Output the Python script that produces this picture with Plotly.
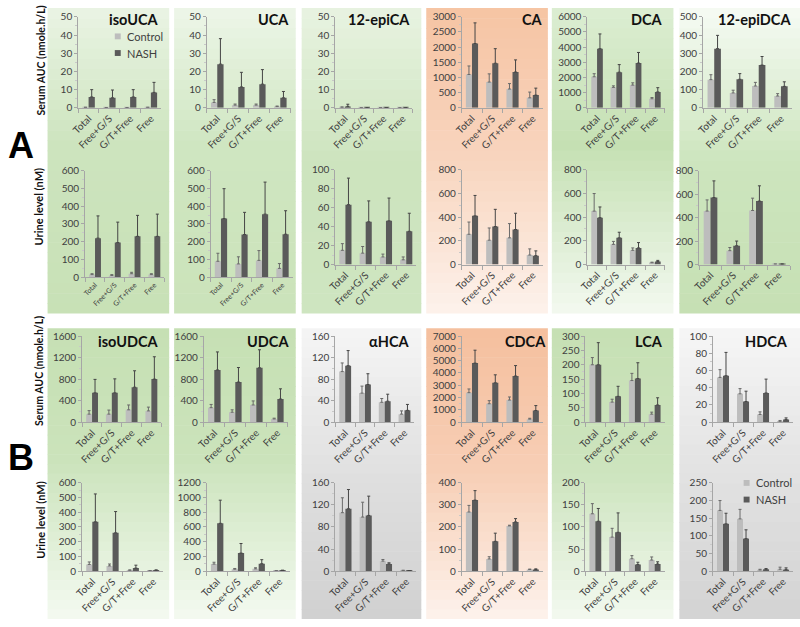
import plotly.graph_objects as go

W, H = 800, 627
categories = ["Total", "Free+G/S", "G/T+Free", "Free"]

names_a = ["isoUCA", "UCA", "12-epiCA", "CA", "DCA", "12-epiDCA"]
names_b = ["isoUDCA", "UDCA", "αHCA", "CDCA", "LCA", "HDCA"]

# --- A: serum AUC (nmole.h/L) ---
serum_a_control = [[0.3, 0.2, 0.2, 0.3], [3, 1.5, 1.5, 0.7], [0.3, 0.1, 0.1, 0.1],
                   [1100, 850, 620, 330], [2050, 1350, 1500, 600], [155, 82, 120, 65]]
serum_a_control_err = [[0, 0, 0, 0], [1.5, 0.6, 0.6, 0.3], [0.2, 0, 0, 0],
                       [280, 270, 180, 190], [200, 100, 150, 80], [27, 15, 20, 13]]
serum_a_nash = [[6, 5.5, 6, 8.5], [24, 11.5, 13, 5.5], [0.8, 0.1, 0.1, 0.1],
                [2120, 1470, 1180, 420], [3900, 2350, 2950, 1050], [325, 157, 235, 118]]
serum_a_nash_err = [[4, 4.3, 4, 5.5], [14, 8, 8, 3.5], [1.2, 0, 0, 0],
                    [680, 480, 400, 230], [970, 500, 700, 280], [73, 31, 47, 25]]
serum_a_ymax = [50, 50, 50, 3000, 6000, 500]
serum_a_dtick = [10, 10, 10, 500, 1000, 100]

# --- A: urine level (nM) ---
urine_a_control = [[15, 10, 20, 15], [90, 75, 95, 50], [15, 12, 8, 5],
                   [255, 205, 225, 80], [450, 170, 120, 15], [455, 118, 460, 3]]
urine_a_control_err = [[5, 5, 8, 5], [45, 40, 55, 27], [7, 7, 3, 3],
                       [103, 103, 120, 52], [148, 25, 20, 5], [95, 27, 105, 2]]
urine_a_nash = [[220, 195, 230, 230], [330, 240, 355, 242], [63, 45, 46, 35],
                [410, 320, 295, 75], [395, 225, 140, 25], [570, 160, 540, 3]]
urine_a_nash_err = [[125, 115, 118, 125], [168, 125, 180, 132], [28, 22, 24, 19],
                    [172, 145, 137, 40], [90, 47, 45, 10], [142, 40, 130, 2]]
urine_a_ymax = [600, 600, 100, 800, 800, 800]
urine_a_dtick = [100, 100, 20, 200, 200, 200]

# --- B: serum AUC (nmole.h/L) ---
serum_b_control = [[150, 150, 230, 210], [270, 185, 320, 60], [94, 54, 37, 15],
                   [2400, 1500, 1800, 250], [200, 70, 145, 28], [52, 33, 9, 1]]
serum_b_control_err = [[65, 75, 90, 70], [60, 45, 75, 15], [16, 13, 7, 6],
                       [300, 250, 250, 70], [25, 10, 25, 7], [9, 6, 3, 1]]
serum_b_nash = [[545, 545, 650, 800], [970, 745, 1010, 430], [105, 70, 39, 22],
                [4800, 3200, 3750, 950], [200, 90, 152, 60], [54, 24, 34, 3]]
serum_b_nash_err = [[250, 260, 305, 415], [335, 270, 335, 190], [28, 20, 13, 11],
                    [1050, 650, 850, 400], [77, 35, 55, 25], [27, 12, 16, 2]]
serum_b_ymax = [1600, 1600, 160, 7000, 300, 100]
serum_b_dtick = [400, 400, 40, 1000, 50, 20]

# --- B: urine level (nM) ---
urine_b_control = [[45, 35, 5, 2], [95, 25, 30, 3], [106, 98, 18, 1],
                   [268, 55, 205, 7], [130, 77, 28, 25], [172, 148, 3, 5]]
urine_b_control_err = [[17, 13, 3, 1], [25, 10, 15, 2], [27, 27, 3, 0.5],
                       [30, 10, 3, 2], [23, 20, 7, 7], [28, 27, 2, 6]]
urine_b_nash = [[335, 260, 20, 5], [650, 245, 100, 8], [113, 101, 13, 0.5],
                [322, 135, 223, 7], [113, 88, 15, 16], [134, 92, 5, 4]]
urine_b_nash_err = [[190, 145, 20, 3], [315, 130, 55, 4], [35, 35, 2, 0.5],
                    [43, 37, 15, 3], [29, 44, 5, 5], [30, 25, 2, 5]]
urine_b_ymax = [600, 1200, 160, 400, 200, 250]
urine_b_dtick = [100, 200, 40, 100, 50, 50]

rows = [
    (serum_a_control, serum_a_control_err, serum_a_nash, serum_a_nash_err, serum_a_ymax, serum_a_dtick),
    (urine_a_control, urine_a_control_err, urine_a_nash, urine_a_nash_err, urine_a_ymax, urine_a_dtick),
    (serum_b_control, serum_b_control_err, serum_b_nash, serum_b_nash_err, serum_b_ymax, serum_b_dtick),
    (urine_b_control, urine_b_control_err, urine_b_nash, urine_b_nash_err, urine_b_ymax, urine_b_dtick),
]

# pixel layout of each plotting area
x_pix = [
    [(70, 154), (200, 285), (330, 408), (458, 540), (585, 663), (702, 792)],
    [(77, 157), (204, 287), (330, 412), (458, 540), (585, 663), (698, 790)],
    [(74, 154), (197, 282), (330, 410), (458, 540), (583, 663), (712, 793)],
    [(74, 156), (200, 284), (330, 412), (458, 540), (583, 663), (712, 793)],
]
y_pix = [
    [(10, 103)] * 6,
    [(167, 276), (167, 276), (166, 263), (166, 263), (166, 263), (167, 263)],
    [(336, 424)] * 6,
    [(486, 576)] * 6,
]

CTRL = "#bdbdbd"
NASH = "#5a5a5a"
TXT = "#404040"
AXC = "#a6a6a6"
FONT = "Lato, Open Sans, sans-serif"


def px(x):
    return x / W


def py(y):
    return 1 - y / H


fig = go.Figure()
layout = {}
n = 0
for r, (ctrl, ctrl_err, nash, nash_err, ymax, dtick) in enumerate(rows):
    for c in range(6):
        n += 1
        xa = f"x{n}" if n > 1 else "x"
        ya = f"y{n}" if n > 1 else "y"
        fig.add_trace(go.Bar(
            x=categories, y=ctrl[c], marker_color=CTRL, marker_line_width=0,
            error_y=dict(type="data", symmetric=False, array=ctrl_err[c],
                         arrayminus=[0] * 4, color="#6a6a6a", thickness=1, width=1.5),
            xaxis=xa, yaxis=ya, showlegend=False, name="Control"))
        fig.add_trace(go.Bar(
            x=categories, y=nash[c], marker_color=NASH, marker_line_width=0,
            error_y=dict(type="data", symmetric=False, array=nash_err[c],
                         arrayminus=[0] * 4, color="#454545", thickness=1, width=1.5),
            xaxis=xa, yaxis=ya, showlegend=False, name="NASH"))
        x0, x1 = x_pix[r][c]
        y0, y1 = y_pix[r][c]
        small = (r == 1 and c < 2)
        layout["xaxis" + (str(n) if n > 1 else "")] = dict(
            domain=[px(x0), px(x1)], anchor=ya, type="category",
            tickangle=-45, tickson="boundaries", ticks="outside", ticklen=4,
            tickcolor=AXC, showline=True, linecolor=AXC, linewidth=1,
            showgrid=False, tickfont=dict(size=7 if small else 10, color=TXT, family=FONT),
        )
        layout["yaxis" + (str(n) if n > 1 else "")] = dict(
            domain=[py(y1), py(y0)], anchor=xa, range=[0, ymax[c]], dtick=dtick[c],
            ticks="outside", ticklen=3, tickcolor=AXC, showline=True, linecolor=AXC,
            linewidth=1, showgrid=False, zeroline=False,
            minor=dict(dtick=dtick[c] / 2, ticks="outside", ticklen=2, tickcolor="#c8c8c8"),
            tickfont=dict(size=10, color=TXT, family=FONT),
        )

# gradient panel backgrounds
box_x = [(39, 162), (167, 290), (296, 417), (422, 545), (549, 672), (678, 800)]
sections = [(1, 313), (328, 625)]
grad_a = [
    [(0, "#eaf4e4"), (0.45, "#cde4be"), (1, "#c8e1b6")],
    [(0, "#edf6e8"), (0.45, "#cfe6c1"), (1, "#cbe3ba")],
    [(0, "#e8f3e1"), (0.5, "#cde4be"), (1, "#cee5c0")],
    [(0, "#f6c4a3"), (0.5, "#f8d5bf"), (1, "#fdf2eb")],
    [(0, "#dcedd2"), (0.45, "#c5e0b3"), (1, "#f3f9f0")],
    [(0, "#f6fbf4"), (0.5, "#cde5be"), (1, "#c6e0b4")],
]
grad_b = [
    [(0, "#c6e0b4"), (0.45, "#cbe3bb"), (1, "#f4faf1")],
    [(0, "#c6e0b4"), (0.45, "#cbe3bb"), (1, "#f4faf1")],
    [(0, "#f5f5f5"), (0.5, "#e0e0e0"), (1, "#d0d0d0")],
    [(0, "#f5bf9e"), (0.5, "#f7cfb6"), (1, "#fdf2ec")],
    [(0, "#c6e0b4"), (0.5, "#cde4be"), (1, "#f3f9f0")],
    [(0, "#f6f6f6"), (0.5, "#e2e2e2"), (1, "#d3d3d3")],
]


def hex2rgb(h):
    h = h.lstrip("#")
    return [int(h[i:i + 2], 16) for i in (0, 2, 4)]


def interp(stops, t):
    for (t0, c0), (t1, c1) in zip(stops[:-1], stops[1:]):
        if t0 <= t <= t1:
            f = (t - t0) / (t1 - t0) if t1 > t0 else 0
            a, b = hex2rgb(c0), hex2rgb(c1)
            return "rgb(%d,%d,%d)" % tuple(round(a[i] + (b[i] - a[i]) * f) for i in range(3))
    return stops[-1][1]


shapes = []
N = 30
for (sy0, sy1), grads in zip(sections, [grad_a, grad_b]):
    for (bx0, bx1), stops in zip(box_x, grads):
        for k in range(N):
            ya0 = sy0 + (sy1 - sy0) * k / N
            ya1 = sy0 + (sy1 - sy0) * (k + 1) / N + 0.6
            shapes.append(dict(type="rect", xref="paper", yref="paper", layer="below",
                               x0=px(bx0), x1=px(bx1), y0=py(min(ya1, sy1)), y1=py(ya0),
                               line=dict(width=0), fillcolor=interp(stops, (k + 0.5) / N)))

# legend squares
for (lx, ly) in [(107, 27), (743, 483)]:
    shapes.append(dict(type="rect", xref="paper", yref="paper", x0=px(lx), x1=px(lx + 6),
                       y0=py(ly + 6), y1=py(ly), fillcolor=CTRL, line=dict(width=0)))
    shapes.append(dict(type="rect", xref="paper", yref="paper", x0=px(lx), x1=px(lx + 6),
                       y0=py(ly + 23), y1=py(ly + 17), fillcolor=NASH, line=dict(width=0)))

annotations = []


def note(text, x, y, size, xanchor="center", angle=0, color="#111111", family=FONT):
    annotations.append(dict(text=text, x=px(x), y=py(y), xref="paper", yref="paper",
                            showarrow=False, xanchor=xanchor, yanchor="middle",
                            textangle=angle, font=dict(size=size, color=color, family=family)))


title_right_a = [153, 285, 408, 542, 663, 793]
title_right_b = [154, 285, 408, 545, 663, 790]
for name, xr in zip(names_a, title_right_a):
    note(f"<b>{name}</b>", xr, 13, 14.5, xanchor="right")
for name, xr in zip(names_b, title_right_b):
    note(f"<b>{name}</b>", xr, 342, 14.5, xanchor="right")

note("<b>Serum AUC (nmole.h/L)</b>", 32, 55, 10.5, angle=-90)
note("<b>Urine level (nM)</b>", 30, 204, 11, angle=-90)
note("<b>Serum AUC (nmole.h/L)</b>", 31, 372, 10.5, angle=-90)
note("<b>Urine level (nM)</b>", 31, 524, 11, angle=-90)
note("<b>A</b>", 12, 141, 36, family="Liberation Sans, Arial, sans-serif", color="#000000")
note("<b>B</b>", 12, 460, 36, family="Liberation Sans, Arial, sans-serif", color="#000000")

for (lx, ly) in [(117, 30), (753, 486)]:
    note("Control", lx, ly, 11, xanchor="left", color=TXT)
    note("NASH", lx, ly + 17, 11, xanchor="left", color=TXT)

fig.update_layout(
    width=W, height=H, autosize=False,
    margin=dict(l=0, r=0, t=0, b=0),
    paper_bgcolor="white", plot_bgcolor="rgba(0,0,0,0)",
    barmode="group", bargap=0.4, bargroupgap=0,
    font=dict(family=FONT, color=TXT),
    shapes=shapes, annotations=annotations,
    showlegend=False,
    **layout,
)

fig.write_html("out.html", config={"displayModeBar": False},
               post_script="document.body.style.margin='0';")
